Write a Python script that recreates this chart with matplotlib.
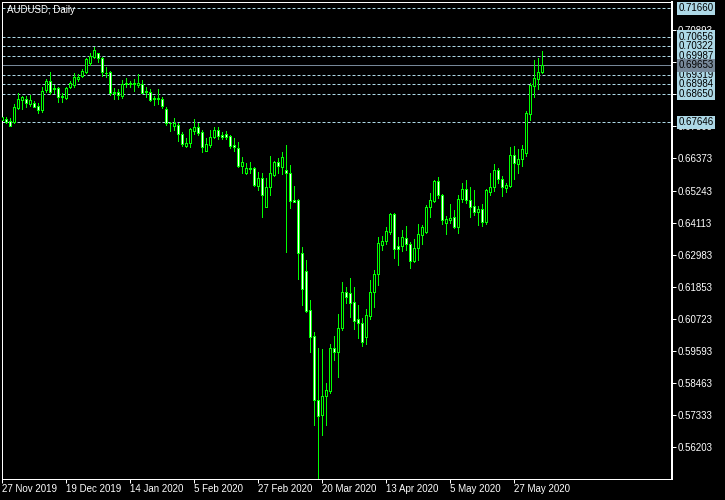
import matplotlib
matplotlib.use("Agg")
import matplotlib.pyplot as plt
import matplotlib.transforms as mtransforms
import numpy as np

# AUDUSD daily bars, 27 Nov 2019 .. 5 Jun 2020
opens = [
    0.6773, 0.6776, 0.6769, 0.6767, 0.6814, 0.6843, 0.6845, 0.6829, 0.6833, 0.6822,
    0.6808, 0.6878, 0.6910, 0.6881, 0.6884, 0.6853, 0.6849, 0.6888, 0.6896, 0.6916,
    0.6927, 0.6943, 0.6972, 0.6993, 0.7007, 0.6990, 0.6939, 0.6941, 0.6869, 0.6870,
    0.6857, 0.6899, 0.6900, 0.6902, 0.6896, 0.6899, 0.6871, 0.6872, 0.6845, 0.6849,
    0.6847, 0.6810, 0.6761, 0.6753, 0.6754, 0.6723, 0.6682, 0.6691, 0.6735, 0.6749,
    0.6729, 0.6665, 0.6685, 0.6714, 0.6737, 0.6720, 0.6723, 0.6716, 0.6685, 0.6673,
    0.6612, 0.6585, 0.6599, 0.6603, 0.6541, 0.6567, 0.6467, 0.6536, 0.6579, 0.6626,
    0.6608, 0.6597, 0.6585, 0.6491, 0.6491, 0.6303, 0.6241, 0.6104, 0.6012, 0.5787,
    0.5734, 0.5801, 0.5820, 0.5969, 0.5957, 0.6039, 0.6166, 0.6163, 0.6131, 0.6071,
    0.6057, 0.6010, 0.6083, 0.6168, 0.6230, 0.6333, 0.6348, 0.6379, 0.6442, 0.6329,
    0.6329, 0.6356, 0.6336, 0.6277, 0.6321, 0.6368, 0.6379, 0.6465, 0.6488, 0.6558,
    0.6509, 0.6411, 0.6421, 0.6430, 0.6395, 0.6494, 0.6529, 0.6491, 0.6470, 0.6450,
    0.6458, 0.6415, 0.6520, 0.6536, 0.6597, 0.6564, 0.6532, 0.6541, 0.6649, 0.6618,
    0.6634, 0.6658, 0.6794, 0.6893, 0.6917, 0.6941,
]
highs = [
    0.6794, 0.6782, 0.6779, 0.6829, 0.6867, 0.6857, 0.6857, 0.6861, 0.6839, 0.6831,
    0.6890, 0.6916, 0.6943, 0.6896, 0.6890, 0.6867, 0.6890, 0.6911, 0.6937, 0.6933,
    0.6952, 0.6990, 0.7007, 0.7031, 0.7010, 0.6993, 0.6958, 0.6946, 0.6886, 0.6881,
    0.6913, 0.6919, 0.6911, 0.6916, 0.6933, 0.6913, 0.6890, 0.6881, 0.6857, 0.6881,
    0.6855, 0.6817, 0.6767, 0.6779, 0.6761, 0.6731, 0.6708, 0.6746, 0.6775, 0.6763,
    0.6737, 0.6708, 0.6737, 0.6749, 0.6749, 0.6731, 0.6735, 0.6720, 0.6708, 0.6694,
    0.6643, 0.6622, 0.6624, 0.6606, 0.6591, 0.6585, 0.6567, 0.6646, 0.6628, 0.6638,
    0.6661, 0.6685, 0.6614, 0.6540, 0.6494, 0.6327, 0.6280, 0.6139, 0.6027, 0.5969,
    0.5965, 0.5848, 0.5984, 0.6013, 0.6090, 0.6203, 0.6186, 0.6215, 0.6184, 0.6121,
    0.6075, 0.6107, 0.6209, 0.6245, 0.6362, 0.6364, 0.6395, 0.6446, 0.6446, 0.6362,
    0.6385, 0.6400, 0.6344, 0.6353, 0.6407, 0.6403, 0.6473, 0.6517, 0.6561, 0.6573,
    0.6512, 0.6435, 0.6477, 0.6456, 0.6509, 0.6550, 0.6561, 0.6536, 0.6526, 0.6470,
    0.6477, 0.6529, 0.6585, 0.6618, 0.6603, 0.6576, 0.6550, 0.6679, 0.6681, 0.6670,
    0.6685, 0.6804, 0.6904, 0.6984, 0.6992, 0.7015,
]
lows = [
    0.6758, 0.6761, 0.6751, 0.6761, 0.6810, 0.6811, 0.6819, 0.6823, 0.6817, 0.6798,
    0.6802, 0.6872, 0.6864, 0.6867, 0.6837, 0.6837, 0.6845, 0.6884, 0.6890, 0.6911,
    0.6923, 0.6939, 0.6966, 0.6990, 0.6978, 0.6929, 0.6925, 0.6861, 0.6847, 0.6847,
    0.6849, 0.6890, 0.6890, 0.6876, 0.6890, 0.6867, 0.6855, 0.6840, 0.6825, 0.6829,
    0.6814, 0.6755, 0.6735, 0.6737, 0.6700, 0.6682, 0.6679, 0.6679, 0.6723, 0.6720,
    0.6661, 0.6664, 0.6679, 0.6708, 0.6705, 0.6705, 0.6705, 0.6673, 0.6665, 0.6606,
    0.6585, 0.6583, 0.6587, 0.6540, 0.6526, 0.6432, 0.6465, 0.6509, 0.6576, 0.6585,
    0.6583, 0.6309, 0.6462, 0.6483, 0.6212, 0.6121, 0.6098, 0.5957, 0.5699, 0.5511,
    0.5664, 0.5699, 0.5811, 0.5928, 0.5869, 0.6033, 0.6127, 0.6078, 0.6036, 0.6004,
    0.5977, 0.5984, 0.6072, 0.6115, 0.6192, 0.6315, 0.6336, 0.6371, 0.6286, 0.6262,
    0.6313, 0.6315, 0.6251, 0.6274, 0.6280, 0.6336, 0.6376, 0.6432, 0.6484, 0.6497,
    0.6407, 0.6371, 0.6409, 0.6391, 0.6376, 0.6485, 0.6479, 0.6432, 0.6438, 0.6403,
    0.6401, 0.6407, 0.6509, 0.6524, 0.6550, 0.6505, 0.6520, 0.6538, 0.6565, 0.6587,
    0.6611, 0.6646, 0.6773, 0.6855, 0.6881, 0.6937,
]
closes = [
    0.6784, 0.6767, 0.6753, 0.6819, 0.6845, 0.6852, 0.6831, 0.6843, 0.6819, 0.6808,
    0.6875, 0.6910, 0.6872, 0.6884, 0.6853, 0.6857, 0.6886, 0.6904, 0.6925, 0.6923,
    0.6945, 0.6987, 0.6998, 0.7019, 0.6990, 0.6943, 0.6937, 0.6869, 0.6872, 0.6861,
    0.6899, 0.6904, 0.6903, 0.6899, 0.6904, 0.6869, 0.6875, 0.6843, 0.6849, 0.6845,
    0.6822, 0.6761, 0.6763, 0.6763, 0.6722, 0.6687, 0.6693, 0.6740, 0.6749, 0.6728,
    0.6677, 0.6688, 0.6714, 0.6737, 0.6716, 0.6714, 0.6714, 0.6682, 0.6677, 0.6611,
    0.6626, 0.6603, 0.6603, 0.6544, 0.6567, 0.6509, 0.6538, 0.6585, 0.6626, 0.6612,
    0.6643, 0.6585, 0.6489, 0.6484, 0.6303, 0.6177, 0.6101, 0.6010, 0.5787, 0.5731,
    0.5801, 0.5822, 0.5969, 0.5957, 0.6039, 0.6166, 0.6151, 0.6130, 0.6066, 0.6057,
    0.5992, 0.6086, 0.6168, 0.6231, 0.6339, 0.6347, 0.6383, 0.6442, 0.6317, 0.6317,
    0.6362, 0.6336, 0.6277, 0.6321, 0.6371, 0.6397, 0.6467, 0.6491, 0.6558, 0.6509,
    0.6421, 0.6423, 0.6428, 0.6395, 0.6494, 0.6529, 0.6491, 0.6467, 0.6450, 0.6458,
    0.6415, 0.6526, 0.6536, 0.6597, 0.6564, 0.6536, 0.6544, 0.6649, 0.6620, 0.6635,
    0.6671, 0.6796, 0.6896, 0.6919, 0.6943, 0.69653,
]

date_ticks = [0, 16, 32, 48, 64, 80, 96, 112, 128]
date_labels = ["27 Nov 2019", "19 Dec 2019", "14 Jan 2020", "5 Feb 2020",
               "27 Feb 2020", "20 Mar 2020", "13 Apr 2020", "5 May 2020",
               "27 May 2020"]
price_ticks = [0.70893, 0.69763, 0.68633, 0.67503, 0.66373, 0.65243, 0.64113,
               0.62983, 0.61853, 0.60723, 0.59593, 0.58463, 0.57333, 0.56203]
# two scale labels sit fully under the level boxes, so they are left blank
hidden_ticks = [0.69763, 0.68633]
levels = [0.71660, 0.70656, 0.70322, 0.69987, 0.69319, 0.68984, 0.68650, 0.67646]
bid = 0.69653

GREEN = "#00ff00"
LEVEL_C = "#add8e6"
BID_C = "#778899"
PX = 0.72  # one pixel in points at 100 dpi

plt.rcParams["font.family"] = ["Liberation Sans", "DejaVu Sans"]

W, H = 725, 500
fig = plt.figure(figsize=(W / 100, H / 100), dpi=100, facecolor="black")
ax = fig.add_axes([2 / W, 21 / H, 670 / W, 477 / H], facecolor="black")

o = np.array(opens)
c = np.array(closes)
x = np.arange(len(o))
up = c >= o

ax.vlines(x, lows, highs, color=GREEN, lw=PX, zorder=2, antialiased=False)
ax.bar(x, np.abs(c - o), bottom=np.minimum(o, c), width=0.5,
       color=np.where(up, "black", "white"), edgecolor=GREEN, linewidth=PX,
       zorder=3, antialiased=False)

for lv in levels:
    ax.axhline(lv, color=LEVEL_C, lw=PX, dashes=(3, 2), zorder=1)
ax.axhline(bid, color=BID_C, lw=PX, zorder=1)

ax.set_xlim(-0.075, 167.4)
ax.set_ylim(0.55089, 0.71880)

ax.yaxis.tick_right()
ax.set_yticks(price_ticks,
              ["" if v in hidden_ticks else f"{v:.5f}" for v in price_ticks])
ax.set_xticks(date_ticks, date_labels, ha="left")
ax.tick_params(colors="white", labelcolor="white", labelsize=7,
               length=4 * PX, width=PX)
ax.tick_params(axis="y", pad=1)
ax.tick_params(axis="x", pad=1)

for side in ["left", "top", "bottom"]:
    ax.spines[side].set_color("white")
    ax.spines[side].set_linewidth(PX)
ax.spines["right"].set_color("white")
ax.spines["right"].set_linewidth(2 * PX)

# price labels on the right edge for the horizontal lines
tr = mtransforms.blended_transform_factory(ax.transAxes, ax.transData)
for lv in levels:
    ax.text(1.0095, lv, f"{lv:.5f}", transform=tr, va="center", ha="left",
            fontsize=7, color="black", clip_on=False, zorder=5,
            bbox=dict(boxstyle="square,pad=0.15", fc=LEVEL_C, ec="none"))
ax.text(1.0095, bid, f"{bid:.5f}", transform=tr, va="center", ha="left",
        fontsize=7, color="black", clip_on=False, zorder=5,
        bbox=dict(boxstyle="square,pad=0.15", fc=BID_C, ec="none"))

fig.text(7 / W, 1 - 10 / H, "AUDUSD, Daily", color="white", fontsize=7,
         ha="left", va="center")

fig.savefig("out.png", dpi=100, facecolor="black")
